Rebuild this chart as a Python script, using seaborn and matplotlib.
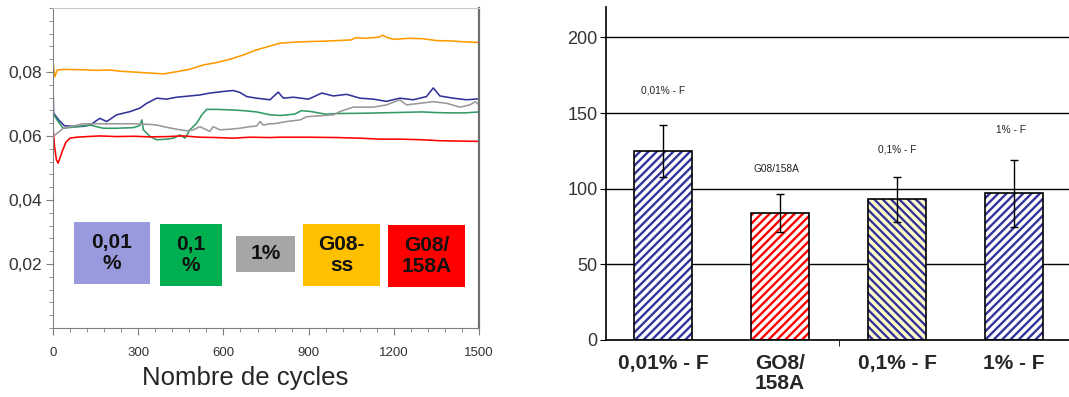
import numpy as np
import pandas as pd
import matplotlib
matplotlib.use("Agg")
import matplotlib.pyplot as plt
from matplotlib.patches import Rectangle
import seaborn as sns

# friction curves (cycles, coefficient)
cyc_gss = [0, 6, 15, 40, 100, 150, 200, 240, 280, 330, 390, 430, 480, 530, 575, 625, 670, 717, 764,
           800, 850, 900, 950, 1000, 1050, 1065, 1100, 1150, 1160, 1175, 1200, 1250, 1300, 1350, 1400, 1450, 1500]
mu_gss = [0.0832, 0.0785, 0.0806, 0.0808, 0.0807, 0.0805, 0.0806, 0.0802, 0.0800, 0.0797, 0.0794, 0.0800,
          0.0808, 0.0822, 0.0829, 0.0840, 0.0853, 0.0869, 0.0881, 0.0890, 0.0893, 0.0895, 0.0896, 0.0898,
          0.0900, 0.0907, 0.0905, 0.0909, 0.0915, 0.0908, 0.0902, 0.0905, 0.0904, 0.0898, 0.0897, 0.0894, 0.0892]

cyc_001 = [0, 2, 20, 40, 80, 107, 130, 165, 189, 224, 271, 306, 330, 365, 400, 435, 482, 517, 552, 600,
           635, 658, 682, 717, 764, 793, 811, 846, 900, 946, 987, 1034, 1081, 1128, 1174, 1221, 1268,
           1315, 1339, 1362, 1409, 1456, 1500]
mu_001 = [0.0759, 0.0671, 0.0650, 0.0632, 0.0629, 0.0630, 0.0634, 0.0655, 0.0645, 0.0666, 0.0676, 0.0687,
          0.0702, 0.0718, 0.0715, 0.0721, 0.0725, 0.0728, 0.0734, 0.0739, 0.0742, 0.0736, 0.0723, 0.0718,
          0.0713, 0.0737, 0.0718, 0.0721, 0.0715, 0.0734, 0.0725, 0.0730, 0.0718, 0.0715, 0.0708, 0.0718,
          0.0713, 0.0723, 0.0750, 0.0725, 0.0718, 0.0713, 0.0716]

cyc_01 = [3, 18, 36, 83, 130, 153, 177, 224, 283, 305, 313, 318, 342, 365, 400, 424, 447, 465, 482, 506,
          524, 541, 576, 635, 670, 717, 764, 800, 850, 875, 910, 960, 1000, 1100, 1200, 1300, 1350, 1400,
          1450, 1500]
mu_01 = [0.0666, 0.0645, 0.0624, 0.0629, 0.0634, 0.0629, 0.0624, 0.0624, 0.0626, 0.0632, 0.0650, 0.0619,
         0.0598, 0.0588, 0.0590, 0.0593, 0.0603, 0.0593, 0.0619, 0.0640, 0.0666, 0.0683, 0.0683, 0.0681,
         0.0679, 0.0675, 0.0666, 0.0664, 0.0668, 0.0679, 0.0676, 0.0668, 0.0670, 0.0671, 0.0673, 0.0675,
         0.0673, 0.0672, 0.0672, 0.0675]

cyc_1 = [7, 36, 71, 107, 165, 224, 283, 342, 365, 400, 435, 471, 494, 517, 541, 552, 564, 588, 623, 658,
         693, 717, 729, 740, 764, 776, 823, 870, 893, 940, 987, 1010, 1057, 1081, 1128, 1174, 1221, 1245,
         1292, 1339, 1386, 1433, 1468, 1486, 1500]
mu_1 = [0.0603, 0.0624, 0.0631, 0.0638, 0.0638, 0.0638, 0.0638, 0.0636, 0.0634, 0.0627, 0.0621, 0.0616,
        0.0619, 0.0629, 0.0619, 0.0614, 0.0629, 0.0619, 0.0621, 0.0624, 0.0629, 0.0631, 0.0645, 0.0634,
        0.0638, 0.0638, 0.0645, 0.0650, 0.0660, 0.0663, 0.0666, 0.0676, 0.0690, 0.0690, 0.0690, 0.0697,
        0.0713, 0.0697, 0.0702, 0.0707, 0.0702, 0.0690, 0.0697, 0.0707, 0.0697]

cyc_158 = [0, 5, 12, 18, 30, 45, 60, 83, 120, 165, 224, 283, 342, 400, 458, 517, 576, 635, 693, 764, 800,
           900, 1000, 1081, 1150, 1221, 1300, 1362, 1430, 1500]
mu_158 = [0.0624, 0.0570, 0.0525, 0.0515, 0.0546, 0.0580, 0.0593, 0.0596, 0.0598, 0.0600, 0.0598, 0.0599,
          0.0597, 0.0598, 0.0600, 0.0596, 0.0595, 0.0593, 0.0596, 0.0595, 0.0596, 0.0596, 0.0595, 0.0593,
          0.0590, 0.0590, 0.0588, 0.0585, 0.0584, 0.0583]

# bar chart
bar_labels = ["0,01% - F", "GO8/\n158A", "0,1% - F", "1% - F"]
bar_notes = ["0,01% - F", "G08/158A", "0,1% - F", "1% - F"]
bar_values = [125, 84, 93, 97]
bar_errors = [17, 12.5, 15, 22]

sns.set_style("ticks")
plt.rcParams["font.family"] = ["Liberation Sans", "DejaVu Sans"]
plt.rcParams["hatch.linewidth"] = 1.7

fig = plt.figure(figsize=(10.69, 3.97), dpi=100)
ax1 = fig.add_axes([0.0496, 0.174, 0.3985, 0.806])
ax2 = fig.add_axes([0.567, 0.1436, 0.433, 0.8384])

# ---- left: friction curves
curves = [
    (cyc_gss, mu_gss, "#ff9900"),
    (cyc_001, mu_001, "#333399"),
    (cyc_01, mu_01, "#339966"),
    (cyc_1, mu_1, "#999999"),
    (cyc_158, mu_158, "#ff0000"),
]
for cx, cy, col in curves:
    sns.lineplot(x=cx, y=cy, ax=ax1, color=col, linewidth=1.15, sort=False, estimator=None)

ax1.set_xlim(0, 1500)
ax1.set_ylim(0, 0.1)
ax1.set_xticks([0, 300, 600, 900, 1200, 1500])
ax1.set_xticks(np.arange(0, 1501, 60), minor=True)
ax1.set_yticks([0.02, 0.04, 0.06, 0.08])
ax1.set_yticks(np.arange(0, 0.1001, 0.004), minor=True)
ax1.set_yticklabels(["0,02", "0,04", "0,06", "0,08"], fontsize=12.5, color="#333333")
ax1.set_xticklabels(["0", "300", "600", "900", "1200", "1500"], fontsize=9.5, color="#333333")
ax1.tick_params(axis="both", which="major", length=5, color="#808080", pad=3)
ax1.tick_params(axis="both", which="minor", length=3, color="#808080")
ax1.tick_params(axis="x", pad=9)
ax1.set_xlabel("Nombre de cycles", fontsize=18.5, labelpad=2)
ax1.xaxis.set_label_coords(0.45, -0.12)
ax1.set_ylabel("")
for s in ["left", "bottom"]:
    ax1.spines[s].set_color("#808080")
ax1.spines["top"].set_color("#c8c8c8")
ax1.spines["right"].set_color("#707070")
ax1.spines["right"].set_linewidth(1.6)

# legend boxes
boxes = [
    ("0,01\n%", "#9999dd", 0.049, 0.1375, 0.178, 0.194),
    ("0,1\n%", "#00b050", 0.251, 0.131, 0.146, 0.194),
    ("1%", "#a6a6a6", 0.430, 0.175, 0.138, 0.1125),
    ("G08-\nss", "#ffc000", 0.587, 0.131, 0.181, 0.194),
    ("G08/\n158A", "#ff0000", 0.786, 0.128, 0.181, 0.194),
]
for txt, col, bx, by, bw, bh in boxes:
    ax1.add_patch(Rectangle((bx, by), bw, bh, transform=ax1.transAxes, facecolor=col,
                            edgecolor="none", zorder=3))
    ax1.text(bx + bw / 2, by + bh / 2, txt, transform=ax1.transAxes, ha="center", va="center",
             fontsize=15, fontweight="bold", color="#111111", linespacing=1.1, zorder=4)

# ---- right: bar chart
df = pd.DataFrame({"label": bar_labels, "value": bar_values})
sns.barplot(data=df, x="label", y="value", ax=ax2, width=0.5, color="white", errorbar=None)

hatches = ["////", "////", "\\\\\\\\", "////"]
hatch_cols = ["#333399", "#ff0000", "#333399", "#333399"]
faces = ["white", "white", "#ffffcc", "white"]
for p, h, hc, fc in zip(ax2.patches, hatches, hatch_cols, faces):
    p.set_facecolor(fc)
    p.set_hatch(h)
    p.set_edgecolor(hc)
    p.set_linewidth(0)
    ax2.add_patch(Rectangle(p.get_xy(), p.get_width(), p.get_height(), fill=False,
                            edgecolor="black", linewidth=1.2, zorder=3))

xpos = np.arange(len(bar_values))
ax2.errorbar(xpos, bar_values, yerr=bar_errors, fmt="none", ecolor="black", elinewidth=1,
             capsize=3, capthick=1, zorder=4)

note_y = [165, 113, 126, 138.6]
note_dx = [0, -0.03, 0, -0.03]
for i, (t, ny) in enumerate(zip(bar_notes, note_y)):
    ax2.text(xpos[i] + note_dx[i], ny, t, ha="center", va="center", fontsize=7.3, color="#222222")

ax2.set_ylim(0, 220)
ax2.set_xlim(-0.487, 3.47)
ax2.set_yticks([0, 50, 100, 150, 200])
ax2.set_yticklabels(["0", "50", "100", "150", "200"], fontsize=13, color="#333333")
ax2.set_xticks(xpos)
ax2.set_xticklabels(bar_labels, fontsize=15, fontweight="bold", linespacing=1.05)
ax2.set_xticks([1.5], minor=True)
ax2.tick_params(axis="x", which="major", length=0, pad=10)
ax2.tick_params(axis="x", which="minor", length=4, color="black")
ax2.tick_params(axis="y", length=4, color="black", pad=2)
ax2.set_xlabel("")
ax2.set_ylabel("")
ax2.yaxis.grid(True, color="black", linewidth=1)
ax2.set_axisbelow(True)
ax2.spines["top"].set_visible(False)
ax2.spines["right"].set_visible(False)
for s in ["left", "bottom"]:
    ax2.spines[s].set_color("black")
    ax2.spines[s].set_linewidth(1.2)

fig.savefig("out.png", dpi=100)
